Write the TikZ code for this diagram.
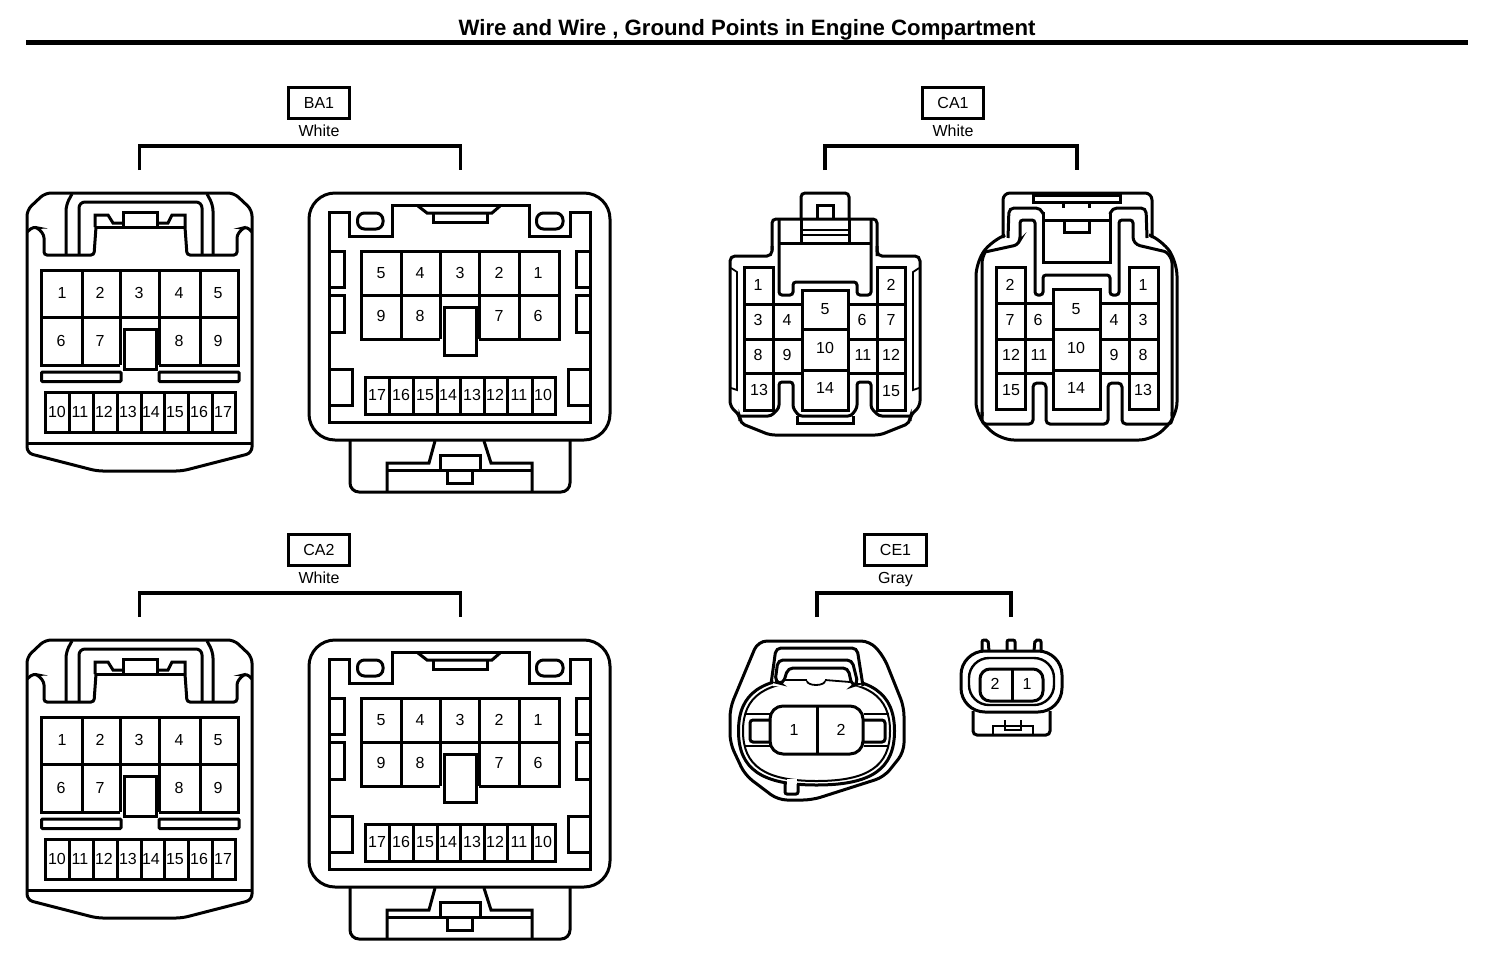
\documentclass[tikz,border=0pt]{standalone}
\usepackage{fontspec}
\setmainfont{Liberation Sans}
\tikzset{
  pinlabel/.style={inner sep=0pt,text height=11.5pt,text depth=0pt,font=\fontsize{16}{16}\selectfont},
  tagbox/.style={draw,line width=2.8pt,minimum width=61.5pt,minimum height=30.5pt,inner sep=0pt,text height=11.5pt,text depth=0pt,font=\fontsize{16}{16}\selectfont},
  colorlabel/.style={inner sep=0pt,text height=11.5pt,text depth=3.4pt,font=\fontsize{16}{16}\selectfont},
  thinline/.style={line width=1.8pt},
  bracketline/.style={line width=3.8pt},
}
\newcommand{\tagged}[8]{% prefix, name, colour, labelx, labely, left, right
  \node[tagbox] (#1) at (#4,#5) {#2};
  \node[colorlabel] (#1c) at (#4,#5+29) {#3};
  \coordinate (#1l) at (#6,#5+67);
  \coordinate (#1r) at (#7,#5+67);
  \draw[bracketline] (#1l) -- ++(0,-24) -| (#1r);
}
\newcommand{\partA}[1]{%
  \draw[rounded corners=6pt] (27,440) -- (27,210) -- (45,193) -- (234,193) -- (252,210) -- (252,453) -- (182,471) -- (97,471) -- (27,453) -- cycle;
  \draw (27,443) -- (252,443);
  \draw[rounded corners=3pt] (27,232) -- (33,227) -- (38,228) -- (44,235) -- (44,255) -- (94,255) -- (96,227);
  \draw[rounded corners=3pt] (185,227) -- (187,255) -- (237,255) -- (237,235) -- (243,228) -- (247,227) -- (252,232);
  \draw[rounded corners=6pt] (66,255) -- (66,205) -- (72,194);
  \draw[rounded corners=6pt] (213,255) -- (213,205) -- (207,194);
  \draw[rounded corners=6pt] (79,255) -- (79,202) -- (202,202) -- (202,255);
  \draw (95,227) -- (95,215) -- (108,215) -- (113,223) -- (123,223);
  \draw (157,223) -- (168,223) -- (172,215) -- (185,215) -- (185,227);
  \draw (123,212) rectangle (157,227);
  \draw (95,227) -- (185,227);
  \draw (120,365) -- (41,365) -- (41,270) -- (238,270) -- (238,365) -- (159,365);
  \draw (41,317) -- (238,317);
  \foreach \q in {82,120,159,200} \draw (\q,270) -- (\q,365);
  \draw[fill=white] (124,329) rectangle (156,369);
  \draw[rounded corners=1pt] (41.5,372) rectangle (121,381.5);
  \draw[rounded corners=1pt] (159,372) rectangle (239,381.5);
  \draw (45,392) rectangle (235,432);
  \foreach \q in {69,93,117,141,164,188,212} \draw (\q,392) -- (\q,432);
  \foreach \t/\q/\r in {1/62/293,2/100/293,3/139/293,4/179/293,5/218/293,6/61/341,7/100/341,8/179/341,9/218/341,10/57/412,11/80/412,12/104/412,13/128/412,14/151/412,15/175/412,16/199/412,17/223/412}
    \node[pinlabel] (#1-\t) at (\q,\r) {\t};
}
\newcommand{\partB}[1]{%
  \draw[rounded corners=26pt] (309,193) rectangle (610,440);
  \draw (329,212) -- (349,212) -- (349,236) -- (392,236) -- (392,205) -- (529,205) -- (529,236) -- (570,236) -- (570,212) -- (590,212) -- (590,422) -- (329,422) -- cycle;
  \draw[rounded corners=7pt] (357.5,213) rectangle (383,229);
  \draw[rounded corners=7pt] (536.5,213) rectangle (563,229);
  \draw (418,206) -- (427,213) -- (492,213) -- (500,206);
  \draw (433,213) -- (433,222) -- (487,222) -- (487,213);
  \draw (440,339) -- (361,339) -- (361,251) -- (559,251) -- (559,339) -- (479,339);
  \draw (361,295) -- (559,295);
  \foreach \q in {401,440,479,519} \draw (\q,251) -- (\q,339);
  \draw[fill=white] (444,307) rectangle (476,355);
  \draw (329,251) -- (344,251) -- (344,287) -- (329,287);
  \draw (329,295) -- (344,295) -- (344,332) -- (329,332);
  \draw (590,251) -- (576,251) -- (576,287) -- (590,287);
  \draw (590,295) -- (576,295) -- (576,332) -- (590,332);
  \draw (329,369) -- (352,369) -- (352,405) -- (329,405);
  \draw (590,369) -- (568,369) -- (568,405) -- (590,405);
  \draw (365,377) rectangle (555,414);
  \foreach \q in {389,413,437,460,484,507,532} \draw (\q,377) -- (\q,414);
  \draw[rounded corners=9pt] (350,441) -- (350,492) -- (570,492) -- (570,441);
  \draw (435,441) -- (429,463) -- (387,463) -- (387,492);
  \draw (484,441) -- (491,463) -- (532,463) -- (532,492);
  \draw (387,470) -- (532,470);
  \draw (440,470) -- (440,455) -- (480,455) -- (480,470);
  \draw (447,470) -- (447,483) -- (472,483) -- (472,470);
  \foreach \t/\q/\r in {5/381/273,4/420/273,3/460/273,2/499/273,1/538/273,9/381/316,8/420/316,7/499/316,6/538/316,17/377/395,16/401/395,15/425/395,14/448/395,13/472/395,12/495/395,11/519/395,10/543/395}
    \node[pinlabel] (#1-\t) at (\q,\r) {\t};
}
\begin{document}
\begin{tikzpicture}[x=1pt,y=-1pt,line width=3pt]
\useasboundingbox (0,0) rectangle (1504,970);
\node[inner sep=0pt,font=\bfseries\fontsize{22.2}{22.2}\selectfont] (title) at (747,29.5) {Wire and Wire , Ground Points in Engine Compartment};
\coordinate (rulel) at (26,42.5);
\coordinate (ruler) at (1468,42.5);
\draw[line width=4.4pt] (rulel) -- (ruler);

\tagged{ba1}{BA1}{White}{319}{103}{139.5}{460.5}{}
\partA{ba1a}
\partB{ba1b}

\begin{scope}[yshift=-447pt]
\partA{ca2a}
\partB{ca2b}
\end{scope}
\tagged{ca2}{CA2}{White}{319}{550}{139.5}{460.5}{}

\tagged{ca1}{CA1}{White}{953}{103}{825}{1077}{}
\tagged{ce1}{CE1}{Gray}{895.5}{550}{817}{1011}{}

% CA1 left
\draw[rounded corners=4pt] (772,250) -- (772,219) -- (877,219) -- (877,256);
\draw[rounded corners=5pt] (772,246) -- (772,256) -- (730,256) -- (730,406) -- (740,416) -- (740,423) -- (770,435) -- (880,435) -- (910,423) -- (910,416) -- (920,406) -- (920,256) -- (877,256) -- (877,246);
\draw[rounded corners=4pt] (801,219) -- (801,193) -- (849,193) -- (849,219);
\draw (817,219) -- (817,205) -- (833,205) -- (833,219);
\draw[rounded corners=3pt] (740,416) -- (771,416) -- (779,408) -- (779,382) -- (793,382) -- (793,408) -- (799,416) -- (851,416) -- (857,408) -- (857,382) -- (871,382) -- (871,408) -- (879,416) -- (910,416);
\draw (797,416) -- (797,423) -- (853,423) -- (853,416);
\draw[thinline] (731,268) -- (737,272) -- (737,390) -- (731,388);
\draw[thinline] (919,268) -- (913,272) -- (913,390) -- (919,388);
\draw[rounded corners=3pt] (779,219) -- (779,295) -- (793,295) -- (793,282) -- (857,282) -- (857,295) -- (871,295) -- (871,219);
\draw (779,243) -- (871,243);
\draw (801,219) -- (801,243);
\draw (849,219) -- (849,243);
\draw[thinline] (801,230) -- (849,230);
\draw[thinline] (801,235) -- (849,235);
\draw (744,267) rectangle (773,410);
\draw (877,267) rectangle (905,410);
\draw (802,290) rectangle (848,410);
\foreach \r in {304,339,373} {\draw (744,\r) -- (802,\r); \draw (848,\r) -- (905,\r);}
\foreach \r in {329,370} \draw (802,\r) -- (848,\r);
\foreach \t/\q/\r in {1/758/285,2/891/285,3/758/320,4/787/320,5/825/309,6/862/320,7/891/320,8/758/355,9/787/355,10/825/348,11/863/355,12/891/355,13/759/390,14/825/388,15/891/391}
  \node[pinlabel] (ca1a-\t) at (\q,\r) {\t};

% CA1 right
\draw[rounded corners=7pt] (1003,238) -- (1003,193) -- (1152,193) -- (1152,238);
\draw[rounded corners=14pt] (1003,236) -- (992,240) -- (976,262) -- (976,416) -- (1000,440) -- (1153,440) -- (1177,416) -- (1177,262) -- (1162,240) -- (1152,236);
\draw[rounded corners=3pt] (985,252) -- (1017,245) -- (1020,240) -- (1020,220) -- (1035,220) -- (1035,295) -- (1043,295) -- (1043,275) -- (1110,275) -- (1110,295) -- (1119,295) -- (1119,220) -- (1133,220) -- (1133,240) -- (1137,245) -- (1167,252) -- (1172,260) -- (1172,416);
\draw[rounded corners=3pt] (985,252) -- (982,260) -- (982,416);
\draw[rounded corners=4pt] (982,412) -- (982,424) -- (1033,424) -- (1033,383) -- (1046,383) -- (1046,424) -- (1108,424) -- (1108,383) -- (1122,383) -- (1122,424) -- (1172,424) -- (1172,412);
\draw[rounded corners=5pt] (1008,238) -- (1009,208) -- (1041,208) -- (1043,214);
\draw[rounded corners=5pt] (1147,238) -- (1146,208) -- (1112,208) -- (1110,214);
\draw (1033,195) rectangle (1120,202);
\draw (1063,202) -- (1063,208);
\draw (1089,202) -- (1089,208);
\draw (1043,212) -- (1043,262) -- (1110,262) -- (1110,212);
\draw (1043,220) -- (1110,220);
\draw (1064,220) -- (1064,232) -- (1089,232) -- (1089,220);
\draw (996,267) rectangle (1025,409);
\draw (1129,267) rectangle (1158,409);
\draw (1053,289) rectangle (1100,409);
\foreach \r in {303,339,373} {\draw (996,\r) -- (1053,\r); \draw (1100,\r) -- (1158,\r);}
\foreach \r in {329,370} \draw (1053,\r) -- (1100,\r);
\foreach \t/\q/\r in {2/1010/285,1/1143/285,7/1010/320,6/1038/320,5/1076/309,4/1114/320,3/1143/320,12/1011/355,11/1039/355,10/1076/348,9/1114/355,8/1143/355,15/1011/390,14/1076/388,13/1143/390}
  \node[pinlabel] (ca1b-\t) at (\q,\r) {\t};

% CE1 left
\draw[rounded corners=9pt] (750,660) -- (758,641) -- (870,641) -- (884,657) -- (904,707) -- (904,752) -- (884,777) -- (812,800) -- (778,800) -- (745,775) -- (730,743) -- (730,708) -- cycle;
\draw (738.5,731) .. controls (738.5,693) and (761.5,677) .. (816.5,677) .. controls (871.5,677) and (894.5,693) .. (894.5,731) .. controls (894.5,769) and (871.5,785) .. (816.5,785) .. controls (761.5,785) and (738.5,769) .. (738.5,731) -- cycle;
\draw[line width=2pt] (743,731) .. controls (743,696) and (765,681) .. (816.5,681) .. controls (868,681) and (890,696) .. (890,731) .. controls (890,766) and (868,781) .. (816.5,781) .. controls (765,781) and (743,766) .. (743,731) -- cycle;
\fill[white] (773,686) -- (776,650) -- (858,650) -- (862,686) -- cycle;
\draw[rounded corners=5pt] (771,684) -- (776,648) -- (857,648) -- (863,686);
\draw[rounded corners=5pt] (775,682) -- (778,660) -- (852,660) -- (858,684) -- (852,686) -- (848,668) -- (788,668) -- (783,684) -- cycle;
\draw[thinline] (783,680) -- (807,680);
\draw[thinline] (825,680) -- (850,682);
\draw[thinline] (807,681) arc[start angle=180,end angle=0,x radius=9,y radius=4] ;
\fill[white] (786.5,779) rectangle (796.5,787);
\draw[rounded corners=2pt] (785,784) -- (785,794) -- (798,794) -- (798,784);
\draw[rounded corners=13pt] (770,706) rectangle (863,754);
\draw (817,706) -- (817,754);
\draw[line width=2pt] (745,713.5) -- (770,713.5);
\draw[line width=2pt] (745,745.5) -- (770,745.5);
\draw[line width=2pt] (889,713.5) -- (864,713.5);
\draw[line width=2pt] (889,745.5) -- (864,745.5);
\draw[rounded corners=3pt] (771,720) -- (750,720) -- (750,742) -- (771,742);
\draw[rounded corners=3pt] (863,720) -- (885,720) -- (885,742) -- (863,742);
\node[pinlabel] (ce1a-1) at (794,730) {1};
\node[pinlabel] (ce1a-2) at (841,730) {2};

% CE1 right
\draw[rounded corners=24pt] (961,651) rectangle (1062,712);
\draw[line width=2.4pt,rounded corners=20pt] (969,658) rectangle (1054,705);
\draw[rounded corners=10pt] (980,669) rectangle (1043,701);
\draw (1012.5,669) -- (1012.5,701);
\draw[rounded corners=2pt] (982,651) -- (982,640) -- (988,640) -- (989,651);
\draw[rounded corners=2pt] (1007,651) -- (1007,640) -- (1015,640) -- (1015,651);
\draw[rounded corners=2pt] (1034,651) -- (1035,640) -- (1041,640) -- (1041,651);
\draw[rounded corners=4pt] (973,711) -- (973,735) -- (1050,735) -- (1050,711);
\draw[line width=2.2pt] (993,735) -- (993,726) -- (1033,726) -- (1033,735);
\draw[line width=2.2pt] (1005,720) -- (1005,730) -- (1021,730) -- (1021,720);
\node[pinlabel] (ce1b-2) at (995,684) {2};
\node[pinlabel] (ce1b-1) at (1027,684) {1};
\end{tikzpicture}
\end{document}
